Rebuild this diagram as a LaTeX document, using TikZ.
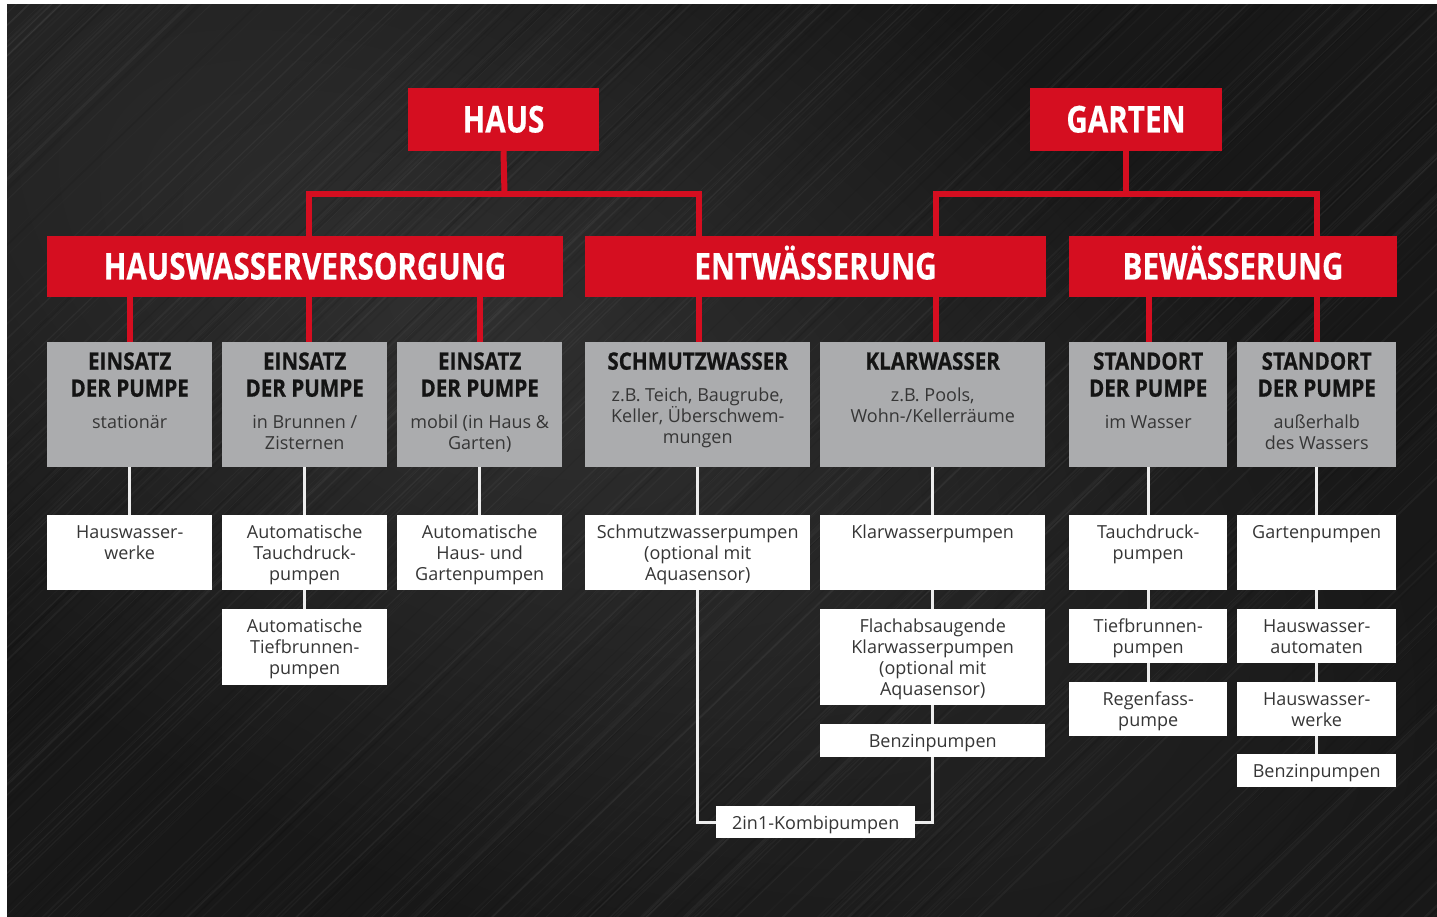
\documentclass[tikz,border=0pt]{standalone}
\usepackage{fontspec}
\setmainfont{Open Sans}
\newfontfamily\condfont[FakeStretch=0.8, FakeBold=0.4]{Open Sans}
\newfontfamily\headfont[FakeStretch=0.86, FakeBold=0.6]{Open Sans}
\definecolor{hred}{HTML}{D50E20}
\definecolor{hgray}{HTML}{ABACAE}
\definecolor{htext}{HTML}{363636}
\definecolor{bgdark}{HTML}{181818}
\definecolor{wline}{HTML}{EDEDED}
\tikzset{
  redbox/.style={fill=hred, inner sep=0pt, text=white, font=\condfont\bfseries\fontsize{37}{37}\selectfont, text height=26pt, text depth=0pt},
  graybox/.style={fill=hgray, inner sep=0pt, anchor=north west, text=htext},
  whitebox/.style={fill=white, inner sep=0pt, anchor=north west, text=htext},
  redline/.style={draw=hred, line width=6pt},
  whiteline/.style={draw=wline, line width=3pt},
}
\newcommand\wbt[3]{\parbox[c][#2pt][t]{#1pt}{\centering\fontsize{18}{21}\selectfont\rule{0pt}{23pt}#3\par}}
\newcommand\gbt[4]{\parbox[c][#2pt][t]{#1pt}{\centering{\headfont\bfseries\fontsize{24}{27}\selectfont\rule{0pt}{27.5pt}\color{black!92}#3\par}\vspace{10.5pt}{\fontsize{18}{21}\selectfont #4\par}}}
\begin{document}
\begin{tikzpicture}[x=1pt,y=-1pt]
\useasboundingbox (0,0) rectangle (1437,917);
% background
\begin{scope}
  \clip (7,4) rectangle (1437,917);
  \fill[bgdark] (7,4) rectangle (1437,917);
  \foreach \k in {0,...,21}{
    \pgfmathsetmacro\ra{1050*(1-\k/23)}
    \pgfmathsetmacro\rb{520*(1-\k/23)}
    \fill[white, opacity=0.009, rotate around={-30:(470,330)}] (470,330) ellipse ({\ra} and {\rb});
  }
  \pgfmathsetseed{11}
  \foreach \i in {1,...,260}{
    \pgfmathsetmacro\xs{-950+rnd*2400}
    \pgfmathsetmacro\op{0.012+rnd*0.03}
    \pgfmathsetmacro\lw{0.5+rnd*1.6}
    \draw[white, opacity=\op, line width=\lw pt] (\xs,930) -- ++(1000,-960);
  }
  \foreach \i in {1,...,100}{
    \pgfmathsetmacro\xs{-950+rnd*2400}
    \pgfmathsetmacro\op{0.04+rnd*0.06}
    \pgfmathsetmacro\lw{0.6+rnd*1.6}
    \draw[black, opacity=\op, line width=\lw pt] (\xs,930) -- ++(1000,-960);
  }
\end{scope}
\fill[white] (0,0) rectangle (1437,4);
\fill[white] (0,0) rectangle (7,917);

% helper coordinates
\coordinate (hb) at (504.5,194);
\coordinate (gb) at (1126,194);
\coordinate (x130) at (130,0);
\coordinate (x309) at (309,0);
\coordinate (x480) at (480,0);
\coordinate (x699) at (699,0);
\coordinate (x936) at (936,0);
\coordinate (x1148) at (1148.5,0);
\coordinate (x1317) at (1317,0);

% red boxes
\node[redbox, minimum width=191pt, minimum height=63pt] (haus) at (503.5,119.5) {HAUS};
\node[redbox, minimum width=192pt, minimum height=63pt] (garten) at (1126,119.5) {GARTEN};
\node[redbox, minimum width=516pt, minimum height=61pt] (hwv) at (305,266.5) {HAUSWASSERVERSORGUNG};
\node[redbox, minimum width=461pt, minimum height=61pt] (ent) at (815.5,266.5) {ENTWÄSSERUNG};
\node[redbox, minimum width=328pt, minimum height=61pt] (bew) at (1233,266.5) {BEWÄSSERUNG};

% gray boxes
\node[graybox] (g1) at (47,342) {\gbt{165}{125}{EINSATZ\\DER PUMPE}{stationär}};
\node[graybox] (g2) at (222,342) {\gbt{165}{125}{EINSATZ\\DER PUMPE}{in Brunnen /\\Zisternen}};
\node[graybox] (g3) at (397,342) {\gbt{165}{125}{EINSATZ\\DER PUMPE}{mobil (in Haus \&\\Garten)}};
\node[graybox] (g4) at (585,342) {\gbt{225}{125}{SCHMUTZWASSER}{z.B. Teich, Baugrube,\\Keller, Überschwem-\\mungen}};
\node[graybox] (g5) at (820,342) {\gbt{225}{125}{KLARWASSER}{z.B. Pools,\\Wohn-/Kellerräume}};
\node[graybox] (g6) at (1069,342) {\gbt{158}{125}{STANDORT\\DER PUMPE}{im Wasser}};
\node[graybox] (g7) at (1237,342) {\gbt{159}{125}{STANDORT\\DER PUMPE}{außerhalb\\des Wassers}};

% white boxes
\node[whitebox] (w1) at (47,515) {\wbt{165}{75}{Hauswasser-\\werke}};
\node[whitebox] (w2) at (222,515) {\wbt{165}{75}{Automatische\\Tauchdruck-\\pumpen}};
\node[whitebox] (w2b) at (222,609) {\wbt{165}{76}{Automatische\\Tiefbrunnen-\\pumpen}};
\node[whitebox] (w3) at (397,515) {\wbt{165}{75}{Automatische\\Haus- und\\Gartenpumpen}};
\node[whitebox] (w4) at (585,515) {\wbt{225}{75}{Schmutzwasserpumpen\\(optional mit\\Aquasensor)}};
\node[whitebox] (w5) at (820,515) {\wbt{225}{75}{Klarwasserpumpen}};
\node[whitebox] (w5b) at (820,609) {\wbt{225}{96}{Flachabsaugende\\Klarwasserpumpen\\(optional mit\\Aquasensor)}};
\node[whitebox] (w5c) at (820,724) {\wbt{225}{33}{Benzinpumpen}};
\node[whitebox] (w6) at (1069,515) {\wbt{158}{75}{Tauchdruck-\\pumpen}};
\node[whitebox] (w6b) at (1069,609) {\wbt{158}{54}{Tiefbrunnen-\\pumpen}};
\node[whitebox] (w6c) at (1069,682) {\wbt{158}{54}{Regenfass-\\pumpe}};
\node[whitebox] (w7) at (1237,515) {\wbt{159}{75}{Gartenpumpen}};
\node[whitebox] (w7b) at (1237,609) {\wbt{159}{54}{Hauswasser-\\automaten}};
\node[whitebox] (w7c) at (1237,682) {\wbt{159}{54}{Hauswasser-\\werke}};
\node[whitebox] (w7d) at (1237,754) {\wbt{159}{33}{Benzinpumpen}};
\node[whitebox] (komb) at (716,806) {\wbt{199}{32}{2in1-Kombipumpen}};

% red connectors
\draw[redline] (haus.south) -- (hb);
\draw[redline] (x309 |- hwv.north) -- (x309 |- hb) -- (x699 |- hb) -- (x699 |- ent.north);
\draw[redline] (garten.south) -- (gb);
\draw[redline] (x936 |- ent.north) -- (x936 |- gb) -- (x1317 |- gb) -- (x1317 |- bew.north);
\draw[redline] (x130 |- hwv.south) -- (x130 |- g1.north);
\draw[redline] (x309 |- hwv.south) -- (x309 |- g2.north);
\draw[redline] (x480 |- hwv.south) -- (x480 |- g3.north);
\draw[redline] (x699 |- ent.south) -- (x699 |- g4.north);
\draw[redline] (x936 |- ent.south) -- (x936 |- g5.north);
\draw[redline] (x1148 |- bew.south) -- (x1148 |- g6.north);
\draw[redline] (x1317 |- bew.south) -- (x1317 |- g7.north);

% white connectors
\draw[whiteline] (g1.south) -- (w1.north);
\draw[whiteline] (g2.south) -- (w2.north);
\draw[whiteline] (w2.south) -- (w2b.north);
\draw[whiteline] (g3.south) -- (w3.north);
\draw[whiteline] (g4.south) -- (w4.north);
\draw[whiteline] (g5.south) -- (w5.north);
\draw[whiteline] (w5.south) -- (w5b.north);
\draw[whiteline] (w5b.south) -- (w5c.north);
\draw[whiteline] (g6.south) -- (w6.north);
\draw[whiteline] (w6.south) -- (w6b.north);
\draw[whiteline] (w6b.south) -- (w6c.north);
\draw[whiteline] (g7.south) -- (w7.north);
\draw[whiteline] (w7.south) -- (w7b.north);
\draw[whiteline] (w7b.south) -- (w7c.north);
\draw[whiteline] (w7c.south) -- (w7d.north);
\draw[whiteline] (w4.south) |- (komb.west);
\draw[whiteline] (w5c.south) |- (komb.east);
\end{tikzpicture}
\end{document}
